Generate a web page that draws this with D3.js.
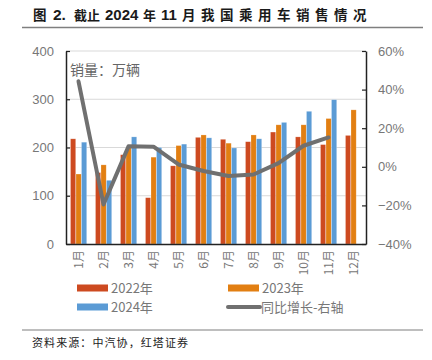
<!DOCTYPE html>
<html><head><meta charset="utf-8">
<script src="https://cdn.jsdelivr.net/npm/d3@7"></script>
<style>body{margin:0;background:#fff}svg{display:block}</style>
</head><body><svg id="c" width="432" height="360"></svg>
<script>
const months = ["1月","2月","3月","4月","5月","6月","7月","8月","9月","10月","11月","12月"];
const s2022 = [218,148,185,96,162,221,217,212,232,222,206,225];
const s2023 = [145,164,201,180,204,226,209,226,247,247,260,278];
const s2024 = [211,132,222,200,207,220,199,218,252,275,299,null];
const yoy = [44.3,-19.5,10.6,10.4,1.2,-2.2,-4.8,-4.0,1.9,10.9,15.2];
const leftTicks = [0,100,200,300,400];
const rightTicks = [-40,-20,0,20,40,60];
const seriesNames = ["2022年","2023年","2024年"];
const colors = ["#CD4A20","#E27F12","#5B9BD5"];
const lineColor = "#707070";

const svg = d3.select("#c");
const L = 66, R = 366, T = 51, B = 244;
const x = d3.scaleBand().domain(months).range([L,R]).paddingInner(0).paddingOuter(0);
const y = d3.scaleLinear().domain([0,400]).range([B,T]);
const y2 = d3.scaleLinear().domain([-40,60]).range([B,T]);
const inner = d3.scaleBand().domain([0,1,2]).range([4.5, x.bandwidth()-4]).padding(0);
const numFont = "'Liberation Sans', Arial, sans-serif";
const cjk = "'Noto Sans CJK SC', sans-serif";

// title (segments)
const titleParts = [
  {t:"图",x:33,f:cjk,s:13.5,ls:0},
  {t:"2.",x:53,f:numFont,s:15.5,ls:0},
  {t:"截止",x:74,f:cjk,s:13,ls:0},
  {t:"2024",x:105,f:numFont,s:15,ls:0},
  {t:"年",x:143,f:cjk,s:13,ls:0},
  {t:"11",x:161,f:numFont,s:15,ls:0},
  {t:"月我国乘用车销售情况",x:182,f:cjk,s:13.5,ls:5.5}
];
const title = svg.append("text").attr("y",20).attr("font-weight","bold").attr("fill","#1a1a1a");
titleParts.forEach(p=>title.append("tspan").attr("x",p.x).attr("font-family",p.f).attr("font-size",p.s).attr("letter-spacing",p.ls).text(p.t));
svg.append("line").attr("x1",22).attr("x2",423).attr("y1",27.5).attr("y2",27.5).attr("stroke","#7f7f7f").attr("stroke-width",1.4);

// grid
svg.append("g").selectAll("line").data(leftTicks.filter(d=>d>0)).join("line")
  .attr("x1",L).attr("x2",R).attr("y1",d=>y(d)).attr("y2",d=>y(d)).attr("stroke","#d9d9d9").attr("stroke-width",1);

// bars
const data = [s2022,s2023,s2024];
data.forEach((arr,si)=>{
  svg.append("g").selectAll("rect").data(arr.map((v,i)=>({v,m:months[i]})).filter(d=>d.v!=null)).join("rect")
    .attr("x",d=>x(d.m)+inner(si)).attr("width",inner.bandwidth()-0.3)
    .attr("y",d=>y(d.v)).attr("height",d=>B-y(d.v))
    .attr("fill",colors[si]).attr("stroke","#fff").attr("stroke-opacity",0.35).attr("stroke-width",0.6);
});

// line
const line = d3.line().x((d,i)=>x(months[i])+x.bandwidth()/2).y(d=>y2(d));
svg.append("path").datum(yoy).attr("d",line).attr("fill","none").attr("stroke",lineColor)
  .attr("stroke-width",4).attr("stroke-linejoin","round").attr("stroke-linecap","round");

// axes
const gl = svg.append("g").attr("transform",`translate(${L},0)`).call(d3.axisLeft(y).tickValues(leftTicks).tickSize(-4).tickSizeOuter(0).tickPadding(12));
gl.select(".domain").attr("stroke","#222").attr("stroke-width",1.5);
gl.selectAll(".tick line").attr("stroke","#222").attr("stroke-width",1.2);
gl.selectAll("text").attr("font-family",numFont).attr("font-size",13).attr("fill","#777");

const gr = svg.append("g").attr("transform",`translate(${R},0)`).call(d3.axisRight(y2).tickValues(rightTicks).tickSize(-4).tickSizeOuter(0).tickPadding(12).tickFormat(d=>(d<0?"−"+Math.abs(d):d)+"%"));
gr.select(".domain").attr("stroke","#222").attr("stroke-width",1.5);
gr.selectAll(".tick line").attr("stroke","#222").attr("stroke-width",1.2);
gr.selectAll("text").attr("font-family",numFont).attr("font-size",13).attr("fill","#777");

const gb = svg.append("g").attr("transform",`translate(0,${B})`).call(d3.axisBottom(x).tickSize(0).tickSizeOuter(0));
gb.select(".domain").attr("stroke","#222").attr("stroke-width",1.5);
gb.selectAll("text").attr("font-family",cjk).attr("font-size",12).attr("fill","#777")
  .attr("transform","rotate(-90)").attr("text-anchor","end").attr("dy","0.35em").attr("x",-6).attr("y",0);

// unit annotation
svg.append("text").attr("x",70).attr("y",75).attr("font-family",cjk).attr("font-size",14).attr("fill","#666").text("销量：万辆");

// legend
const leg = [
  {t:seriesNames[0],c:colors[0],x:77,y:288,type:"rect"},
  {t:seriesNames[1],c:colors[1],x:228,y:288,type:"rect"},
  {t:seriesNames[2],c:colors[2],x:77,y:307,type:"rect"},
  {t:"同比增长-右轴",c:lineColor,x:227,y:307,type:"line"}
];
const lg = svg.append("g");
leg.forEach(d=>{
  if(d.type==="rect"){
    lg.append("rect").attr("x",d.x).attr("y",d.y-3.5).attr("width",31).attr("height",7).attr("fill",d.c);
  } else {
    lg.append("line").attr("x1",d.x+1).attr("x2",d.x+33).attr("y1",d.y).attr("y2",d.y).attr("stroke",d.c).attr("stroke-width",4).attr("stroke-linecap","round");
  }
  lg.append("text").attr("x",d.x+34).attr("y",d.y).attr("dy","0.35em").attr("font-family",cjk).attr("font-size",13).attr("fill","#777").text(d.t);
});

// bottom line & source
svg.append("line").attr("x1",22).attr("x2",423).attr("y1",330).attr("y2",330).attr("stroke","#7f7f7f").attr("stroke-width",1.2);
svg.append("text").attr("x",32).attr("y",346.5).attr("font-family",cjk).attr("font-size",11).attr("fill","#222")
  .attr("textLength",156).attr("lengthAdjust","spacing").text("资料来源：中汽协，红塔证券");
</script></body></html>
